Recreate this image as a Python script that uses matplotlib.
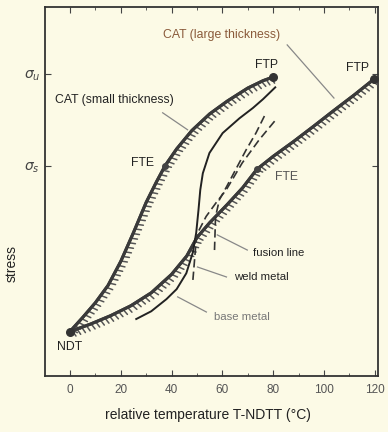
import matplotlib
matplotlib.use("Agg")
import matplotlib.pyplot as plt
import matplotlib.patheffects as pe
from matplotlib.ticker import MultipleLocator

plt.rcParams['font.family'] = ['Liberation Sans', 'DejaVu Sans']

# ---- data ----
cat_small_x = [0, 5, 10, 15, 20, 25, 30, 34, 37.5, 42, 48, 55, 62, 70, 76, 80]
cat_small_y = [12, 15.8, 19.8, 24.5, 31, 38.8, 47, 52.5, 57, 61.5, 66.5, 71, 74.5, 78, 80, 81]

cat_large_x = [0, 8, 16, 24, 32, 40, 46, 50, 55, 62, 68, 73.6, 80, 88, 96, 104, 112, 119.6]
cat_large_y = [12, 14, 16.3, 19, 22.5, 27.5, 32.5, 37.5, 41.5, 46.5, 51, 56, 59.5, 63.5, 67.7, 72, 76.2, 80.4]

base_x = [26.1, 32, 38, 42, 45.8, 48.4, 49.7, 50.6, 51.3, 52.3, 54.9, 60.1, 66.7, 72, 76, 80.8]
base_y = [15.4, 17.5, 20.8, 23.5, 27.8, 33.5, 38.8, 45, 50.4, 54.9, 60.4, 65.8, 69.8, 72.6, 75, 78.2]

weld_x = [48.4, 49.7, 50.3, 53.6, 57.5, 61.5, 67.8, 74.5, 81]
weld_y = [26.0, 36.9, 38.8, 43.2, 46.9, 50.4, 57.7, 64, 69.4]

fusion_x = [56.9, 57.3, 58.8, 61.6, 69.3, 73.2, 77.1]
fusion_y = [34.1, 43.1, 47.7, 51.2, 61.2, 65.8, 71.2]

pts_big_x = [0, 80, 119.6]        # NDT, FTP (small), FTP (large)
pts_big_y = [12, 81, 80.4]
pts_small_x = [37.5, 73.6]        # FTE (small), FTE (large)
pts_small_y = [57, 56]

x_ticks = [0, 20, 40, 60, 80, 100, 120]
y_ticks = [56.9, 81.8]
y_ticklabels = [r'$\sigma_s$', r'$\sigma_u$']

bg = '#fcfae6'
dark = '#3a3a3a'

fig = plt.figure(figsize=(3.88, 4.32), dpi=100, facecolor=bg)
ax = fig.add_axes([0.116, 0.130, 0.858, 0.854], facecolor=bg)
ax.set_xlim(-9.8, 121.2)
ax.set_ylim(0, 100)

hatch = [pe.withTickedStroke(angle=-75, spacing=3.6, length=1.3, linewidth=1.1, foreground='#555555'),
         pe.Normal()]
ax.plot(cat_small_x, cat_small_y, color=dark, lw=2.2, path_effects=hatch, solid_capstyle='round', zorder=3)
ax.plot(cat_large_x, cat_large_y, color=dark, lw=2.2, path_effects=hatch, solid_capstyle='round', zorder=3)
ax.plot(base_x, base_y, color='#222222', lw=1.4, zorder=4)
ax.plot(weld_x, weld_y, color='#333333', lw=1.2, ls=(0, (5, 2.5)), zorder=4)
ax.plot(fusion_x, fusion_y, color='#333333', lw=1.2, ls=(0, (5, 2.5)), zorder=4)

ax.scatter(pts_big_x, pts_big_y, s=30, color='#333333', zorder=5, clip_on=False)
ax.scatter(pts_small_x, pts_small_y, s=16, color='#444444', zorder=5, clip_on=False)

# leader lines
lead = dict(color='#888888', lw=0.9)
ax.plot([85.5, 103.9], [89.7, 75.3], **lead)
ax.plot([36.5, 46.3], [71.3, 66.7], **lead)
ax.plot([58, 69.8], [38.2, 34.1], **lead)
ax.plot([50.2, 61.6], [29.5, 26.8], **lead)
ax.plot([42.4, 53.7], [21.4, 17.3], **lead)

fs = 8.8
ax.text(59.6, 92.4, 'CAT (large thickness)', color='#8a5a3a', fontsize=fs, ha='center', va='center')
ax.text(-5.9, 74.8, 'CAT (small thickness)', color='#222222', fontsize=fs, ha='left', va='center')
ax.text(77.3, 84.3, 'FTP', color='#222222', fontsize=fs, ha='center', va='center')
ax.text(113, 83.5, 'FTP', color='#222222', fontsize=fs, ha='center', va='center')
ax.text(28.6, 57.7, 'FTE', color='#222222', fontsize=fs, ha='center', va='center')
ax.text(85.1, 53.9, 'FTE', color='#555555', fontsize=fs, ha='center', va='center')
ax.text(0, 7.9, 'NDT', color='#222222', fontsize=fs, ha='center', va='center')
ax.text(82, 33.3, 'fusion line', color='#222222', fontsize=fs - 0.6, ha='center', va='center')
ax.text(75.3, 26.8, 'weld metal', color='#222222', fontsize=fs - 0.6, ha='center', va='center')
ax.text(67.8, 16.0, 'base metal', color='#777777', fontsize=fs - 0.6, ha='center', va='center')

ax.set_xticks(x_ticks)
ax.xaxis.set_minor_locator(MultipleLocator(10))
ax.set_yticks(y_ticks)
ax.set_yticklabels(y_ticklabels)
ax.tick_params(axis='both', which='both', direction='in', top=True, right=True, colors='#444444')
ax.tick_params(axis='x', which='major', length=4, labelsize=8.5, labelcolor='#555555', pad=6)
ax.tick_params(axis='x', which='minor', length=2)
ax.tick_params(axis='y', which='major', length=4, labelsize=10, labelcolor='#444444')
for s in ax.spines.values():
    s.set_linewidth(1.3)
    s.set_color('#333333')

ax.set_xlabel('relative temperature T-NDTT (°C)', fontsize=10, color='#222222')
ax.xaxis.set_label_coords(0.49, -0.088)
ax.set_ylabel('stress', fontsize=10, color='#222222')
ax.yaxis.set_label_coords(-0.08, 0.305)

fig.savefig('out.png', dpi=100, facecolor=bg)
